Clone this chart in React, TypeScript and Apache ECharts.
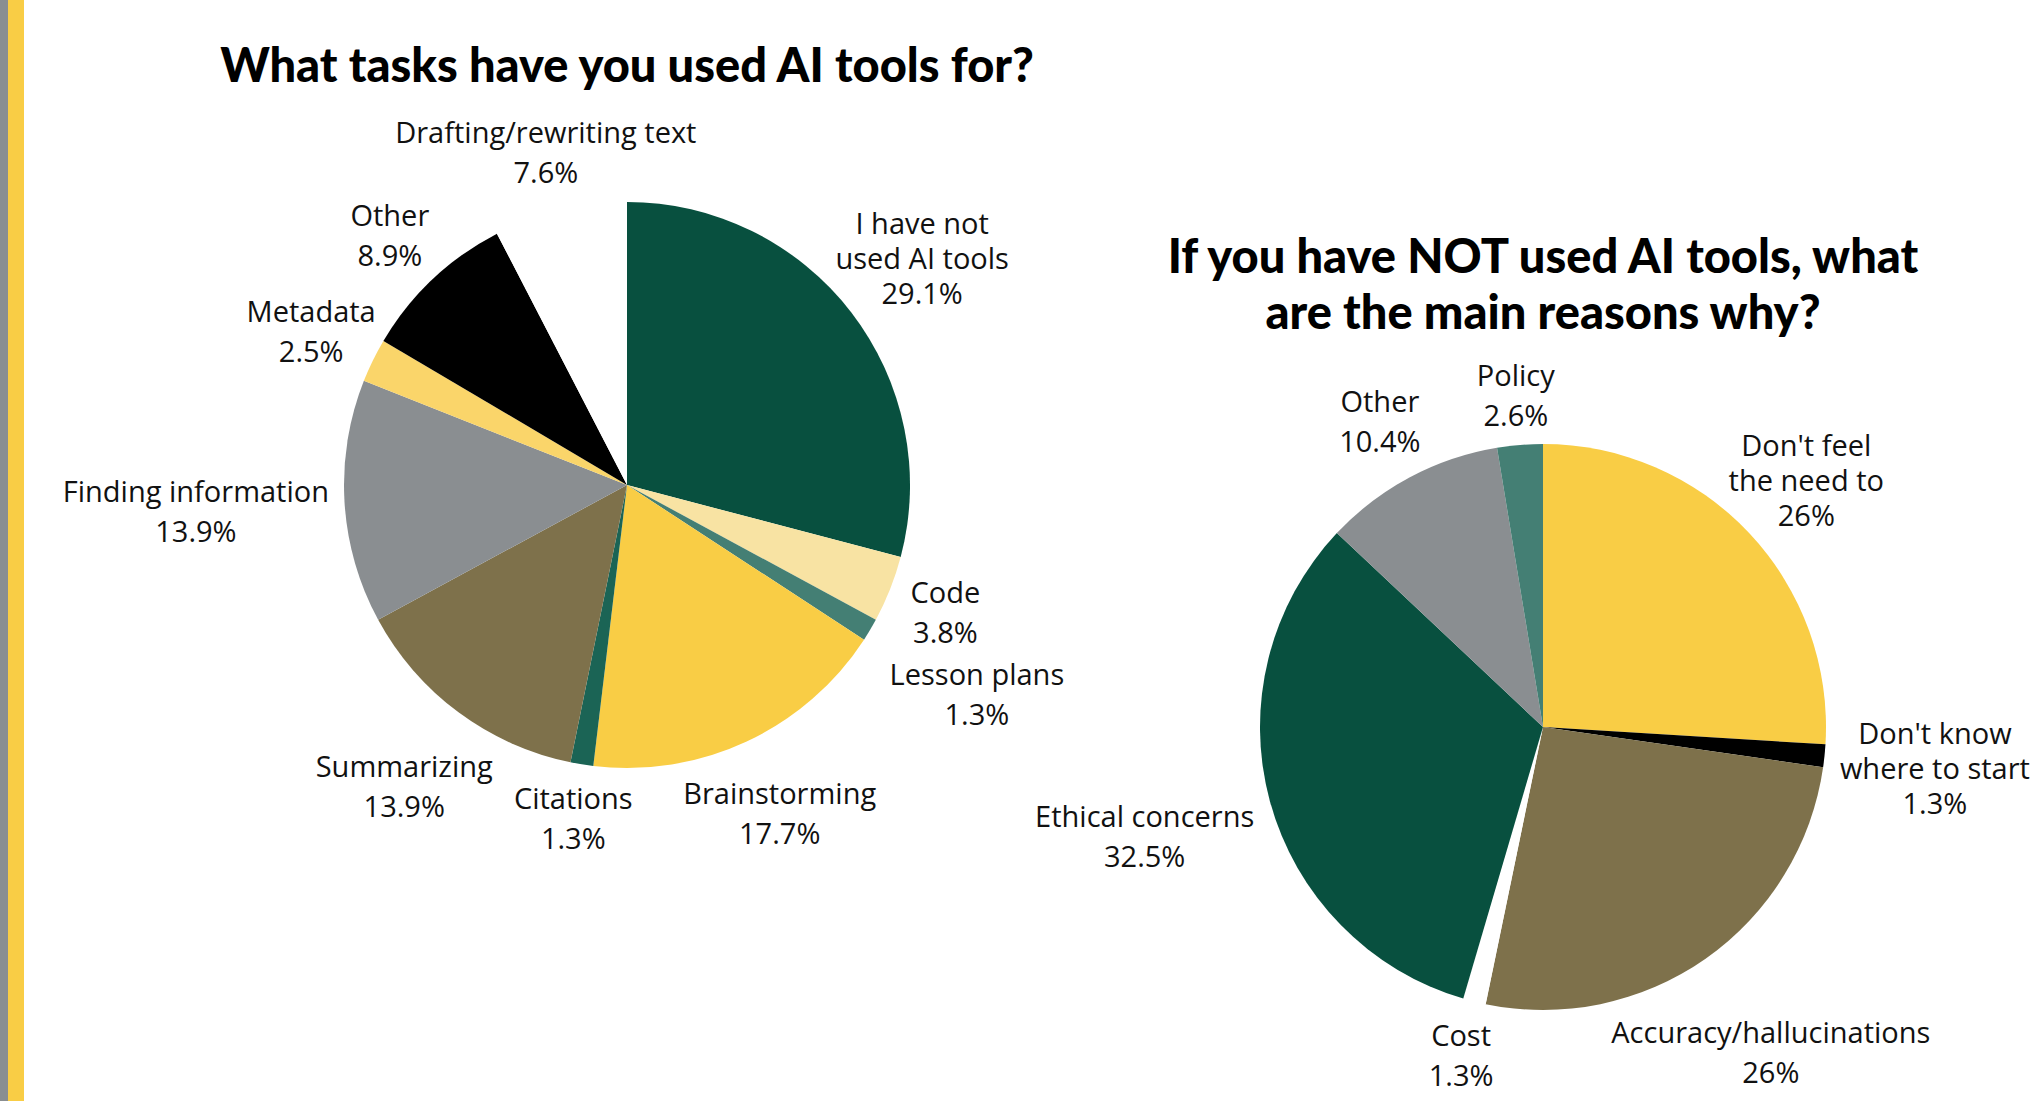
import React, { useEffect, useRef } from "react";
import * as echarts from "echarts";

// ---------- Data ----------
const taskCategories = [
  "I have not\nused AI tools",
  "Code",
  "Lesson plans",
  "Brainstorming",
  "Citations",
  "Summarizing",
  "Finding information",
  "Metadata",
  "Other",
  "Drafting/rewriting text",
];
const taskValues = [29.1, 3.8, 1.3, 17.7, 1.3, 13.9, 13.9, 2.5, 8.9, 7.6];
const taskColors = [
  "#08503F",
  "#F8E3A3",
  "#447F74",
  "#F9CD45",
  "#1B6455",
  "#7E714B",
  "#8A8E91",
  "#FAD56A",
  "#000000",
  "#FFFFFF",
];

const reasonCategories = [
  "Don't feel\nthe need to",
  "Don't know\nwhere to start",
  "Accuracy/hallucinations",
  "Cost",
  "Ethical concerns",
  "Other",
  "Policy",
];
const reasonValues = [26, 1.3, 26, 1.3, 32.5, 10.4, 2.6];
const reasonColors = [
  "#F9CD45",
  "#000000",
  "#7E714B",
  "#FFFFFF",
  "#08503F",
  "#8A8E91",
  "#447F74",
];

const title1 = "What tasks have you used AI tools for?";
const title2 = "If you have NOT used AI tools, what\nare the main reasons why?";

// ---------- Layout ----------
const W = 2040;
const H = 1101;
const R = 283;
const GAP = 15;
const LEFT_C: [number, number] = [627, 485];
const RIGHT_C: [number, number] = [1543, 727];
const LABEL_FONT = "'Open Sans', Lato, sans-serif";
const LABEL_SIZE = 29;
const LH2 = 40; // line height for two-line labels
const LH3 = 35; // line height for three-line labels
const TITLE_FONT = "Lato, sans-serif";

let measureCtx: CanvasRenderingContext2D | null = null;
function textWidth(s: string) {
  if (!measureCtx) {
    measureCtx = document.createElement("canvas").getContext("2d");
    if (measureCtx) measureCtx.font = `${LABEL_SIZE}px ${LABEL_FONT}`;
  }
  return measureCtx ? measureCtx.measureText(s).width : s.length * LABEL_SIZE * 0.5;
}

function makeLabelLayout(values: number[], c: [number, number]) {
  const total = values.reduce((a, b) => a + b, 0);
  const mids: number[] = [];
  let cum = 0;
  for (const v of values) {
    mids.push(((cum + v / 2) / total) * Math.PI * 2);
    cum += v;
  }
  const placed: { x: number; y: number; w: number; h: number }[] = [];
  return (p: any) => {
    if (p.dataIndex === 0) placed.length = 0;
    const a = mids[p.dataIndex];
    const dx = Math.sin(a);
    const dy = -Math.cos(a);
    const lines: string[] = String(p.text).split("\n");
    const n = lines.length;
    const lh = n > 2 ? LH3 : LH2;
    const hh = LABEL_SIZE * 0.5;
    const boxes = lines.map((l, k) => ({
      oy: (k - (n - 1) / 2) * lh,
      hw: textWidth(l) / 2,
    }));
    const distAt = (d: number) => {
      const cx = dx * d;
      const cy = dy * d;
      let m = Infinity;
      for (const b of boxes) {
        const ex = Math.max(Math.abs(cx) - b.hw, 0);
        const ey = Math.max(Math.abs(cy + b.oy) - hh, 0);
        m = Math.min(m, Math.hypot(ex, ey));
      }
      return m;
    };
    let lo = 0;
    let hi = 1200;
    for (let i = 0; i < 40; i++) {
      const mid = (lo + hi) / 2;
      if (distAt(mid) < R + GAP) lo = mid;
      else hi = mid;
    }
    let d = hi;
    const w = Math.max(...boxes.map((b) => b.hw * 2));
    const h = n * lh;
    const overlaps = (x: number, y: number) =>
      placed.some(
        (q) =>
          Math.abs(q.x - x) < (q.w + w) / 2 + 2 && Math.abs(q.y - y) < (q.h + h) / 2 + 2
      );
    let x = c[0] + dx * d;
    let y = c[1] + dy * d;
    let guard = 0;
    while (overlaps(x, y) && guard < 200) {
      d += 1;
      x = c[0] + dx * d;
      y = c[1] + dy * d;
      guard++;
    }
    placed.push({ x, y, w, h });
    return { x, y, align: "center", verticalAlign: "middle" };
  };
}

function pieSeries(
  names: string[],
  values: number[],
  colors: string[],
  c: [number, number]
) {
  return {
    type: "pie",
    center: c,
    radius: [0, R],
    startAngle: 90,
    clockwise: true,
    avoidLabelOverlap: false,
    silent: true,
    data: names.map((n, i) => ({
      name: n,
      value: values[i],
      itemStyle: { color: colors[i] },
      label: { lineHeight: n.includes("\n") ? LH3 : LH2 },
    })),
    itemStyle: { borderWidth: 0 },
    label: {
      show: true,
      position: "outside",
      formatter: (p: any) => `${p.name}\n${p.value}%`,
      color: "#111111",
      fontFamily: LABEL_FONT,
      fontSize: LABEL_SIZE,
      lineHeight: LH2,
      align: "center",
    },
    labelLine: { show: false },
    labelLayout: makeLabelLayout(values, c),
  };
}

export default function App() {
  const ref = useRef<HTMLDivElement>(null);
  useEffect(() => {
    document.body.style.margin = "0";
    if (!ref.current) return;
    const chart = echarts.init(ref.current, null, { renderer: "svg" });
    chart.setOption({
      animation: false,
      backgroundColor: "#FFFFFF",
      graphic: [
        { type: "rect", shape: { x: 0, y: 0, width: 8, height: H }, style: { fill: "#8A8E91" } },
        { type: "rect", shape: { x: 8, y: 0, width: 16, height: H }, style: { fill: "#F9CD45" } },
        {
          type: "text",
          x: LEFT_C[0],
          y: 64,
          style: {
            text: title1,
            fill: "#000000",
            fontFamily: TITLE_FONT,
            fontWeight: 900,
            fontSize: 47,
            textAlign: "center",
            textVerticalAlign: "middle",
          },
        },
        {
          type: "text",
          x: RIGHT_C[0],
          y: 283,
          style: {
            text: title2,
            fill: "#000000",
            fontFamily: TITLE_FONT,
            fontWeight: 900,
            fontSize: 47,
            lineHeight: 56,
            textAlign: "center",
            textVerticalAlign: "middle",
          },
        },
      ],
      series: [
        pieSeries(taskCategories, taskValues, taskColors, LEFT_C),
        pieSeries(reasonCategories, reasonValues, reasonColors, RIGHT_C),
      ],
    });
    return () => chart.dispose();
  }, []);
  return <div ref={ref} style={{ width: W, height: H }} />;
}
